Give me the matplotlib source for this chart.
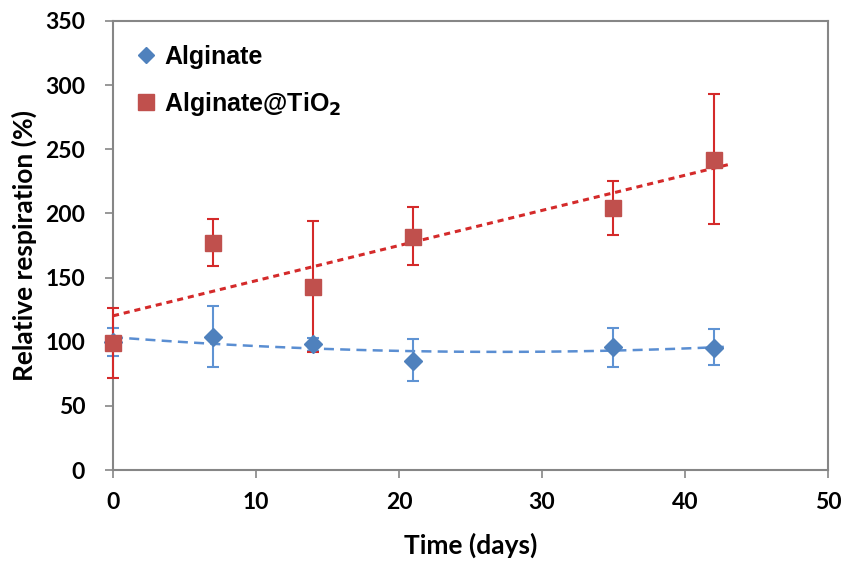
import matplotlib
matplotlib.use("Agg")
import matplotlib.pyplot as plt
import numpy as np

# data
days = [0, 7, 14, 21, 35, 42]
alg = [100, 104, 98, 85, 96, 95]
alg_err_lo = [11, 24, 5, 16, 16, 13]
alg_err_hi = [11, 24, 5, 17, 15, 15]
tio2 = [99, 177, 143, 182, 204, 242]
tio2_err_lo = [27, 18, 51, 22, 21, 50]
tio2_err_hi = [27, 19, 51, 23, 21, 51]

x_ticks = [0, 10, 20, 30, 40, 50]
y_ticks = [0, 50, 100, 150, 200, 250, 300, 350]

blue = '#4F81BD'
red = '#C0504D'
tick_font = 'Lato'
leg_font = 'Liberation Sans'

fig = plt.figure(figsize=(8.46, 5.61), dpi=100)
ax = fig.add_axes([0.1336, 0.1622, 0.845, 0.8004])

# trend lines
xt = np.linspace(0, 43, 100)
p_red = np.polyfit(days, tio2, 1)
p_blue = np.polyfit(days, alg, 2)
ax.plot(xt, np.polyval(p_red, xt), color='#D42A2A', lw=2.2, ls=(0, (2, 1.6)), zorder=2)
ax.plot(xt, np.polyval(p_blue, xt), color='#5A8ED2', lw=1.8, ls=(0, (4, 2.5)), zorder=2)

# error bars
eb1 = ax.errorbar(days, alg, yerr=[alg_err_lo, alg_err_hi], fmt='none', ecolor='#5F93D3',
                  elinewidth=1.5, capsize=4.5, capthick=1.5, zorder=3)
eb2 = ax.errorbar(days, tio2, yerr=[tio2_err_lo, tio2_err_hi], fmt='none', ecolor='#D42A2A',
                  elinewidth=1.5, capsize=4.5, capthick=1.5, zorder=3.5)
for eb in (eb1, eb2):
    for art in eb.lines[1] + eb.lines[2]:
        art.set_clip_on(False)

# markers
ax.plot(days, alg, 'D', color=blue, ms=9, mec=blue, zorder=5, clip_on=False)
ax.plot(days, tio2, 's', color=red, ms=11.5, mec=red, zorder=6, clip_on=False)

ax.set_xlim(0, 50)
ax.set_ylim(0, 350)
ax.set_xticks(x_ticks)
ax.set_yticks(y_ticks)
ax.set_xticklabels([str(v) for v in x_ticks], fontfamily=tick_font, fontweight='bold', fontsize=16.5)
ax.set_yticklabels([str(v) for v in y_ticks], fontfamily=tick_font, fontweight='bold', fontsize=16.5)
ax.tick_params(direction='out', length=6, width=1.2, color='#868686')
ax.tick_params(axis='y', pad=14)
ax.tick_params(axis='x', pad=10)

for s in ax.spines.values():
    s.set_color('#868686')
    s.set_linewidth(1.5)

ax.set_xlabel('Time (days)', fontfamily=tick_font, fontweight='bold', fontsize=19, labelpad=14)
ax.set_ylabel('Relative respiration (%)', fontfamily=tick_font, fontweight='bold', fontsize=19, labelpad=6)

# legend
lh1, = ax.plot([], [], 'D', color=blue, ms=8, mec=blue)
lh2, = ax.plot([], [], 's', color=red, ms=11, mec=red)
ax.legend([lh1, lh2], ['Alginate', 'Alginate@TiO$_\\mathbf{2}$'], loc='upper left',
          frameon=False, prop={'family': leg_font, 'weight': 'bold', 'size': 18},
          handlelength=0.7, handletextpad=0.4, labelspacing=0.85,
          bbox_to_anchor=(0.0, 1.0), borderaxespad=0.55)

fig.savefig('out.png', dpi=100)
